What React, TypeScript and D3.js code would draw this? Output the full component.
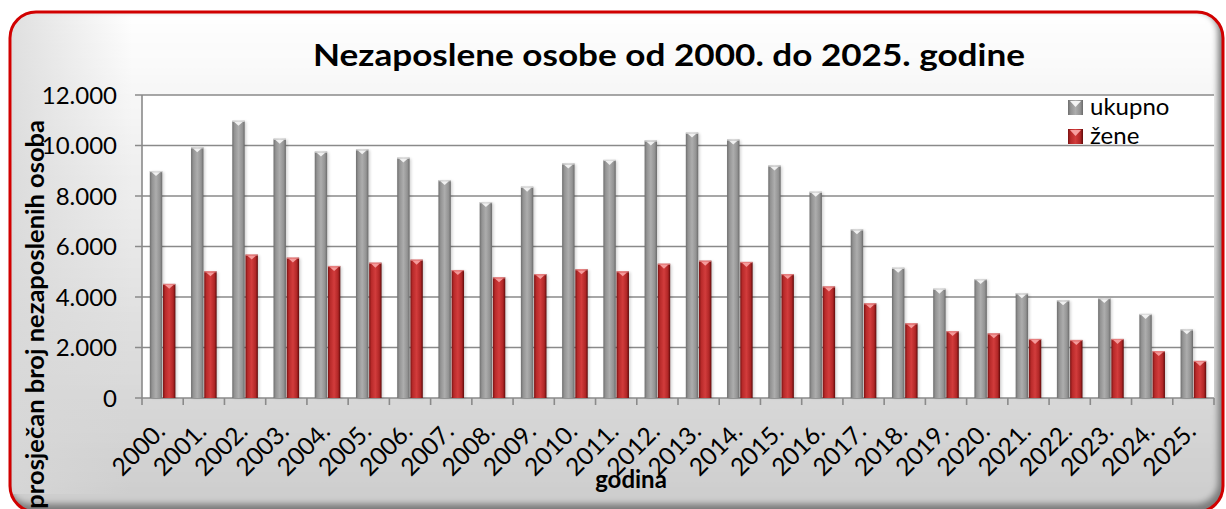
import React from "react";
import * as d3 from "d3";

const years = ["2000.", "2001.", "2002.", "2003.", "2004.", "2005.", "2006.", "2007.", "2008.", "2009.", "2010.", "2011.", "2012.", "2013.", "2014.", "2015.", "2016.", "2017.", "2018.", "2019.", "2020.", "2021.", "2022.", "2023.", "2024.", "2025."];
const ukupno = [8990, 9930, 10980, 10270, 9760, 9850, 9520, 8630, 7760, 8370, 9290, 9430, 10200, 10510, 10240, 9210, 8170, 6680, 5160, 4330, 4710, 4150, 3870, 3960, 3330, 2720];
const zene = [4520, 5020, 5680, 5560, 5230, 5360, 5480, 5070, 4780, 4910, 5100, 5020, 5320, 5440, 5390, 4910, 4420, 3750, 2960, 2650, 2560, 2340, 2300, 2340, 1860, 1470];
const seriesNames = ["ukupno", "žene"];
const yTicks = [0, 2000, 4000, 6000, 8000, 10000, 12000];
const title = "Nezaposlene osobe od 2000. do 2025. godine";
const yTitle = "prosječan broj nezaposlenih osoba";
const xTitle = "godina";

const W = 1226;
const H = 509;
const FONT = "Lato, Carlito, Calibri, 'Open Sans', sans-serif";

const locale = d3.formatLocale({ decimal: ",", thousands: ".", grouping: [3], currency: ["", ""] });
const fmt = locale.format(",");

export default function App() {
  const x = d3.scaleBand<string>().domain(years).range([142, 1214]).padding(0);
  const y = d3.scaleLinear().domain([0, 12000]).range([398, 95]);
  const bw = x.bandwidth();
  const inner = d3
    .scaleBand<string>()
    .domain(seriesNames)
    .range([bw / 2 - 12.8, bw / 2 + 12.8])
    .paddingInner(0.06);
  const w = inner.bandwidth();
  const series = [
    { name: seriesNames[0], values: ukupno, grad: "gGray", cap: "#f4f4f4" },
    { name: seriesNames[1], values: zene, grad: "gRed", cap: "#f7a0a0" },
  ];

  const bar = (bx: number, top: number, bottom: number, s: any, key: string) => (
    <g key={key}>
      <rect x={bx + 1.5} y={top + 1} width={w} height={bottom - top - 1} fill="#000" opacity={0.18} filter="url(#blur)" />
      <rect x={bx} y={top} width={w} height={bottom - top} fill={`url(#${s.grad})`} />
      <rect x={bx} y={top} width={w} height={1.2} fill={s.cap} opacity={0.7} />
      <polygon
        points={`${bx + 2},${top + 1.2} ${bx + w - 2},${top + 1.2} ${bx + w / 2},${top + 5}`}
        fill={s.cap}
        opacity={0.95}
      />
    </g>
  );

  return (
    <svg width={W} height={H} style={{ position: "absolute", left: 0, top: 0, fontFamily: FONT }}>
      <defs>
        <linearGradient id="gBg" x1="0" y1="0" x2="0" y2="1">
          <stop offset="0" stopColor="#ffffff" />
          <stop offset="0.35" stopColor="#eeeeee" />
          <stop offset="1" stopColor="#cdcdcd" />
        </linearGradient>
        <linearGradient id="gLeft" x1="0" y1="0" x2="1" y2="0">
          <stop offset="0" stopColor="#d8d8d8" stopOpacity="0.8" />
          <stop offset="1" stopColor="#d8d8d8" stopOpacity="0" />
        </linearGradient>
        <linearGradient id="gGray" x1="0" y1="0" x2="1" y2="0">
          <stop offset="0" stopColor="#6e6e6e" />
          <stop offset="0.18" stopColor="#939393" />
          <stop offset="0.5" stopColor="#adadad" />
          <stop offset="0.82" stopColor="#939393" />
          <stop offset="1" stopColor="#6a6a6a" />
        </linearGradient>
        <linearGradient id="gRed" x1="0" y1="0" x2="1" y2="0">
          <stop offset="0" stopColor="#7a1212" />
          <stop offset="0.18" stopColor="#b82a2a" />
          <stop offset="0.5" stopColor="#d23c3c" />
          <stop offset="0.82" stopColor="#b02626" />
          <stop offset="1" stopColor="#5e0a0a" />
        </linearGradient>
        <filter id="blur" x="-50%" y="-5%" width="200%" height="110%">
          <feGaussianBlur stdDeviation="1.5" />
        </filter>
        <filter id="panelBlur" x="-5%" y="-5%" width="110%" height="110%">
          <feGaussianBlur stdDeviation="3" />
        </filter>
        <clipPath id="panelClip">
          <rect x={10} y={12} width={1213} height={500} rx={26} />
        </clipPath>
      </defs>

      {/* outer panel */}
      <g clipPath="url(#panelClip)">
        <rect x={10} y={12} width={1213} height={500} fill="#7a7a7a" />
        <rect x={8} y={10} width={1210} height={494} rx={22} fill="url(#gBg)" filter="url(#panelBlur)" />
        <rect x={12} y={14} width={120} height={480} fill="url(#gLeft)" />
      </g>
      <rect x={10} y={12} width={1213} height={500} rx={26} fill="none" stroke="#d10000" strokeWidth={3} />

      {/* title */}
      <text
        x={669}
        y={66}
        textAnchor="middle"
        fontSize={31}
        fontWeight="bold"
        fill="#000"
        textLength={712}
        lengthAdjust="spacingAndGlyphs"
      >
        {title}
      </text>

      {/* plot area */}
      <rect x={142} y={95} width={1214 - 142} height={398 - 95} fill="#ffffff" />

      {/* gridlines & y ticks */}
      {yTicks.map((t) => (
        <g key={t}>
          <line x1={135} x2={1214} y1={y(t)} y2={y(t)} stroke="#8a8a8a" strokeWidth={1.6} />
          <text x={117} y={y(t) + 8.5} textAnchor="end" fontSize={24} fill="#000">
            {fmt(t)}
          </text>
        </g>
      ))}
      <line x1={142} x2={142} y1={95} y2={398} stroke="#8a8a8a" strokeWidth={1.6} />

      {/* x ticks */}
      {years.map((yr) => (
        <line key={"t" + yr} x1={x(yr)!} x2={x(yr)!} y1={398} y2={405} stroke="#8a8a8a" strokeWidth={1.6} />
      ))}
      <line x1={1214} x2={1214} y1={398} y2={405} stroke="#8a8a8a" strokeWidth={1.6} />

      {/* bars */}
      {years.map((yr, i) =>
        series.map((s) => {
          const bx = x(yr)! + inner(s.name)!;
          return bar(bx, y(s.values[i]), y(0), s, yr + s.name);
        })
      )}

      {/* x labels */}
      {years.map((yr) => {
        const cx = x(yr)! + bw / 2 + 4;
        const cy = 433;
        return (
          <text
            key={"l" + yr}
            x={cx}
            y={cy}
            textAnchor="end"
            fontSize={24.5}
            fill="#000"
            transform={`rotate(-45 ${cx} ${cy})`}
          >
            {yr}
          </text>
        );
      })}

      {/* axis titles */}
      <text x={631} y={488} textAnchor="middle" fontSize={24} fontWeight="bold" fill="#000">
        {xTitle}
      </text>
      <text
        x={44}
        y={120}
        textAnchor="end"
        fontSize={25.5}
        fontWeight="bold"
        fill="#000"
        transform={`rotate(-90 44 120)`}
      >
        {yTitle}
      </text>

      {/* legend */}
      {series.map((s, i) => {
        const ly = 100 + i * 29;
        return (
          <g key={"lg" + s.name}>
            <rect x={1068} y={ly} width={15} height={15} fill={`url(#${s.grad})`} />
            <polygon points={`${1070},${ly + 1} ${1081},${ly + 1} ${1075.5},${ly + 7}`} fill={s.cap} />
            <text x={1090} y={ly + 15} fontSize={24} fill="#000">
              {s.name}
            </text>
          </g>
        );
      })}
    </svg>
  );
}
